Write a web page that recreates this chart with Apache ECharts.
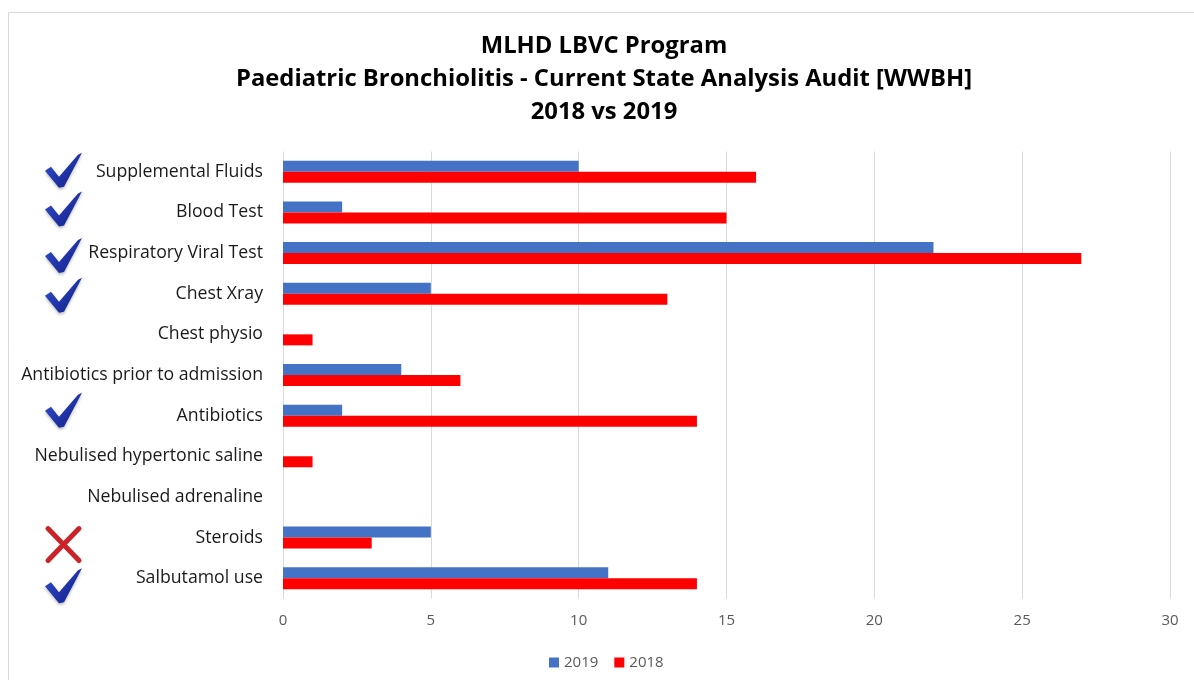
<!DOCTYPE html>
<html>
<head>
<meta charset="utf-8">
<script src="https://cdn.jsdelivr.net/npm/echarts@6/dist/echarts.min.js"></script>
<style>html,body{margin:0;padding:0;background:#fff;}#c{width:1194px;height:680px;}</style>
</head>
<body>
<div id="c"></div>
<script>
const categories = ['Supplemental Fluids','Blood Test','Respiratory Viral Test','Chest Xray','Chest physio','Antibiotics prior to admission','Antibiotics','Nebulised hypertonic saline','Nebulised adrenaline','Steroids','Salbutamol use'];
const values2019 = [10, 2, 22, 5, 0, 4, 2, 0, 0, 5, 11];
const values2018 = [16, 15, 27, 13, 1, 6, 14, 1, 0, 3, 14];
const xTicks = [0, 5, 10, 15, 20, 25, 30];
const marks = [
  {cat:'Supplemental Fluids', kind:'check', dy:-1},
  {cat:'Blood Test', kind:'check', dy:-3},
  {cat:'Respiratory Viral Test', kind:'check', dy:3},
  {cat:'Chest Xray', kind:'check', dy:2},
  {cat:'Antibiotics', kind:'check', dy:-5},
  {cat:'Steroids', kind:'cross', dy:7},
  {cat:'Salbutamol use', kind:'check', dy:8}
];

const chart = echarts.init(document.getElementById('c'));
const font = '"Open Sans", Lato, sans-serif';
chart.setOption({
  animation: false,
  backgroundColor: '#fff',
  title: {
    text: 'MLHD LBVC Program\nPaediatric Bronchiolitis - Current State Analysis Audit [WWBH]\n2018 vs 2019',
    left: 599, textAlign: 'center', top: 25,
    textStyle: {fontFamily: font, fontWeight: 'bold', fontSize: 23.8, lineHeight: 33, color: '#000'}
  },
  legend: {
    data: ['2019','2018'], top: 650, left: 544,
    itemWidth: 10, itemHeight: 10, itemGap: 16, icon: 'rect',
    textStyle: {fontFamily: font, fontSize: 15, color: '#595959'}
  },
  grid: {left: 283, right: 24, top: 151.5, bottom: 81.5, containLabel: false},
  xAxis: {
    type: 'value', min: xTicks[0], max: xTicks[xTicks.length-1], interval: 5,
    axisLine: {show: false}, axisTick: {show: false},
    splitLine: {lineStyle: {color: '#d9d9d9', width: 1}},
    axisLabel: {fontFamily: font, fontSize: 15, color: '#595959', margin: 15,
      formatter: v => xTicks.includes(v) ? String(v) : ''}
  },
  yAxis: {
    type: 'category', data: categories, inverse: true,
    axisLine: {show: false}, axisTick: {show: false},
    axisLabel: {fontFamily: font, fontSize: 17.7, color: '#1a1a1a', margin: 20, padding: [2,0,0,0]}
  },
  series: [
    {name: '2019', type: 'bar', data: values2019, barWidth: 11, barGap: '0%', itemStyle: {color: '#4472C4'}},
    {name: '2018', type: 'bar', data: values2018, barWidth: 11, barGap: '0%', itemStyle: {color: '#FF0000'}}
  ]
});

const g = [{
  type: 'rect', shape: {x: 8.5, y: 12.5, width: 1200, height: 700},
  style: {fill: 'none', stroke: '#d9d9d9', lineWidth: 1}, silent: true
}];
const checkPts = [[-18,0],[-12,-4],[-4,6],[15,-16],[19,-18],[1,16],[-4,17]];
marks.forEach(m => {
  const cy = chart.convertToPixel({yAxisIndex: 0}, m.cat) + m.dy;
  const cx = 63;
  if (m.kind === 'check') {
    g.push({
      type: 'polygon',
      shape: {points: checkPts.map(p => [cx + p[0], cy + p[1]])},
      style: {fill: new echarts.graphic.LinearGradient(0,0,1,1,[{offset:0,color:'#3350d0'},{offset:1,color:'#101c85'}]),
        shadowColor: 'rgba(0,0,0,0.25)', shadowBlur: 3, shadowOffsetY: 2},
      silent: true
    });
  } else {
    g.push({type: 'line', shape: {x1: cx-15, y1: cy-16, x2: cx+16, y2: cy+16},
      style: {stroke: '#cc2229', lineWidth: 5, lineCap: 'round'}, silent: true});
    g.push({type: 'line', shape: {x1: cx+16, y1: cy-16, x2: cx-15, y2: cy+16},
      style: {stroke: '#cc2229', lineWidth: 5, lineCap: 'round'}, silent: true});
  }
});
chart.setOption({graphic: g});
</script>
</body>
</html>
